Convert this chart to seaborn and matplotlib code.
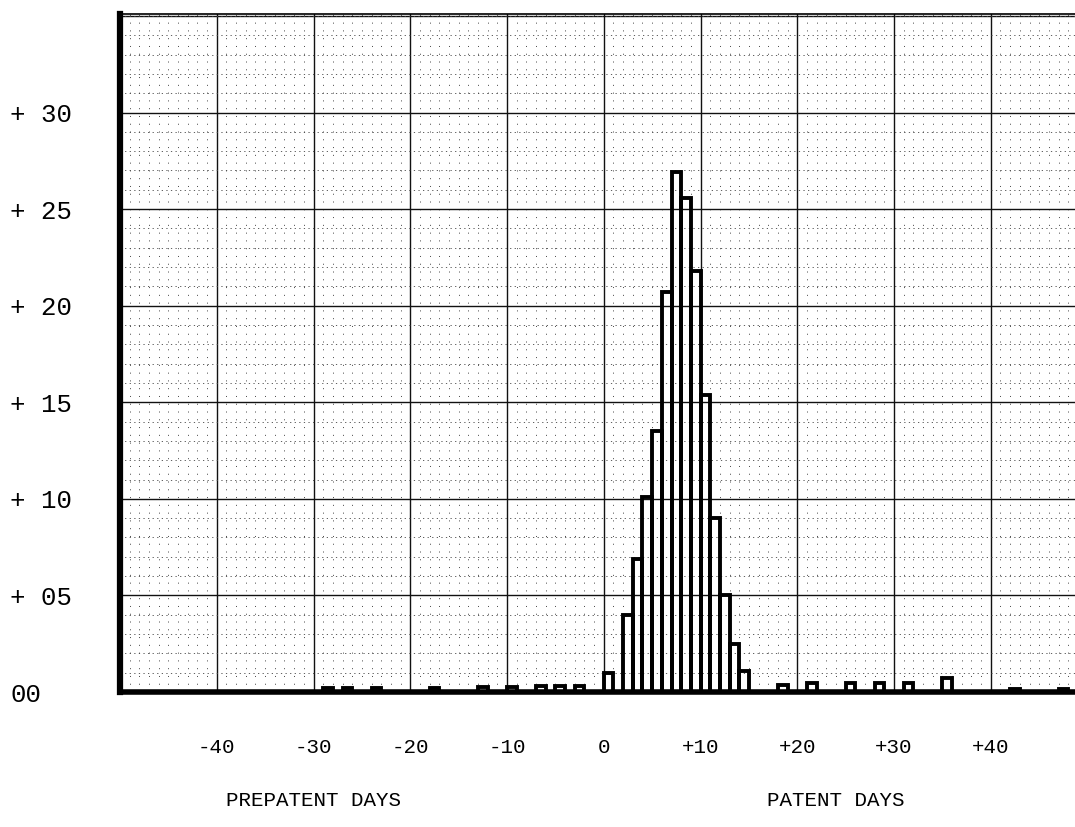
import numpy as np
import pandas as pd
import matplotlib
matplotlib.use("Agg")
import matplotlib.pyplot as plt
from matplotlib.ticker import MultipleLocator
from matplotlib.transforms import blended_transform_factory
import seaborn as sns

# Share of cases (%) by day relative to the onset of patency
prepatent_days = [-29, -27, -24, -18, -13, -10, -7, -5, -3]
prepatent_share = [0.2, 0.2, 0.2, 0.2, 0.25, 0.25, 0.3, 0.3, 0.3]

patent_days = [0, 2, 3, 4, 5, 6, 7, 8, 9, 10, 11, 12, 13, 14,
               18, 21, 25, 28, 31, 35, 42, 47]
patent_share = [1.0, 4.0, 6.9, 10.1, 13.5, 20.7, 26.9, 25.6, 21.8, 15.4, 9.0,
                5.0, 2.5, 1.1, 0.35, 0.45, 0.45, 0.45, 0.45, 0.75, 0.15, 0.15]

x_ticks = [-40, -30, -20, -10, 0, 10, 20, 30, 40]
x_tick_labels = ["-40", "-30", "-20", "-10", "0", "+10", "+20", "+30", "+40"]
y_ticks = [0, 5, 10, 15, 20, 25, 30]
y_tick_labels = ["00", "+ 05", "+ 10", "+ 15", "+ 20", "+ 25", "+ 30"]

section_labels = ["PREPATENT DAYS", "PATENT DAYS"]
section_centers = [-30, 24]

df = pd.DataFrame({
    "day": prepatent_days + patent_days,
    "share": prepatent_share + patent_share,
})

sns.set_style("white")
plt.rcParams["font.family"] = ["Liberation Mono", "DejaVu Sans Mono"]
plt.rcParams["text.color"] = "black"
plt.rcParams["xtick.color"] = "black"
plt.rcParams["ytick.color"] = "black"

W, H = 1075, 827
fig = plt.figure(figsize=(W / 100, H / 100), dpi=100)
ax = fig.add_axes([120 / W, 1 - 692 / H, 955 / W, (692 - 14) / H])

# one-day bins, each bar spans [day, day + 1)
sns.histplot(data=df, x="day", weights="share", binwidth=1, binrange=(-50, 49),
             fill=False, color="black", linewidth=2.8, ax=ax)

ax.set_xlim(-50, 48.7)
ax.set_ylim(0, 35.1)
ax.set_xlabel("")
ax.set_ylabel("")

ax.set_xticks(x_ticks)
ax.set_xticklabels(x_tick_labels, fontsize=15)
ax.set_yticks(y_ticks)
ax.set_yticklabels(y_tick_labels, fontsize=18.5)
for lbl in ax.get_yticklabels():
    lbl.set_horizontalalignment("left")
ax.xaxis.set_minor_locator(MultipleLocator(1))
ax.yaxis.set_minor_locator(MultipleLocator(1))
ax.tick_params(which="both", length=0)
ax.tick_params(axis="y", pad=79)
ax.tick_params(axis="x", pad=33)

# graph-paper grid
ax.set_axisbelow(True)
ax.grid(which="major", color="#111111", linewidth=1.0)
ax.xaxis.grid(which="minor", color="#444444", linewidth=0.7, linestyle=(0, (1, 7)))
ax.yaxis.grid(which="minor", color="#444444", linewidth=0.6, linestyle=(0, (1.5, 4)))
ax.axhline(35, color="#111111", linewidth=1.0, zorder=0.5)

for side, lw in [("left", 4.5), ("bottom", 4.0), ("top", 1.2)]:
    ax.spines[side].set_linewidth(lw)
    ax.spines[side].set_color("black")
ax.spines["right"].set_visible(False)

trans = blended_transform_factory(ax.transData, fig.transFigure)
for text, xc in zip(section_labels, section_centers):
    ax.text(xc, 1 - 800 / H, text, transform=trans, ha="center", va="center",
            fontsize=15, color="black")

fig.savefig("out.png", dpi=100)
